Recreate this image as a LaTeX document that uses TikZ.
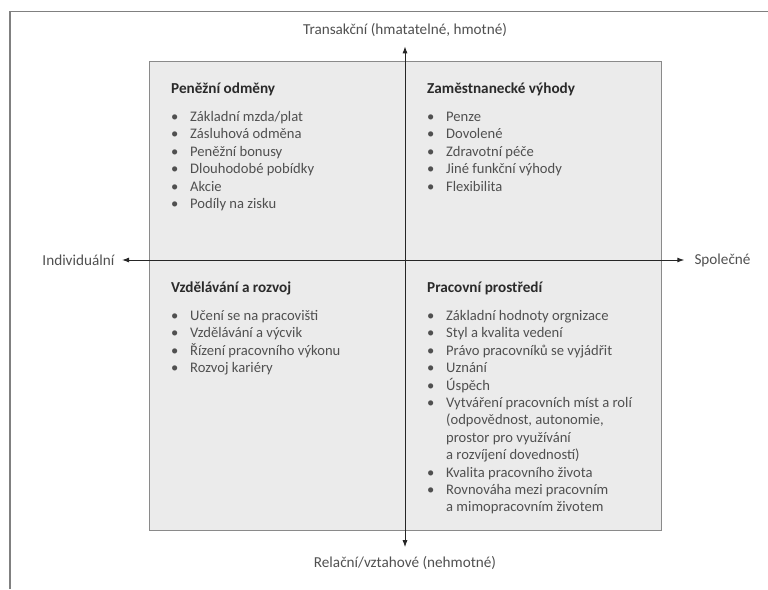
\documentclass[tikz,border=0pt]{standalone}
\usepackage{fontspec}
\setmainfont{Carlito}
\usetikzlibrary{arrows.meta,positioning}

\definecolor{boxfill}{HTML}{EBEBEB}
\definecolor{boxline}{HTML}{8A8A8A}
\definecolor{txtgray}{HTML}{505050}
\definecolor{headgray}{HTML}{2A2A2A}

% heading row and bullet row of a quadrant list
\newcommand{\qhead}[1]{\multicolumn{2}{@{}l@{}}{\fontsize{15.2}{17.4}\selectfont\bfseries\color{headgray}#1}\\[10.6pt]}
\newcommand{\qitem}{\textbullet &}

\begin{document}
\begin{tikzpicture}[x=1pt,y=-1pt,
    quad/.style={anchor=base west,inner sep=0pt,text=txtgray,
        font=\fontsize{14.6}{17.4}\selectfont},
    axlabel/.style={inner sep=0pt,text=txtgray,font=\fontsize{15.2}{17}\selectfont},
    axis/.style={line width=.9pt,black!85,
        {Latex[length=7pt,width=5pt]}-{Latex[length=7pt,width=5pt]}}]
        \useasboundingbox (0,0) rectangle (768,589);
        % frame
        \draw [line width=1.5pt,black!50] (10,589) -- (10,11.7) -- (768,11.7);
        \draw [boxline,fill=boxfill,line width=1pt] (149,61) rectangle (661,530);
        % axis labels
        \node[axlabel] (trans) at (405,30) {Transakční (hmatatelné, hmotné)};
        \node[axlabel] (rel) at (405,563) {Relační/vztahové (nehmotné)};
        \node[axlabel] (indiv) at (78.4,260) {Individuální};
        \node[axlabel] (spol) at (722.5,260) {Společné};
        \draw [axis,shorten <=9.5pt,shorten >=9pt] (trans) -- (rel);
        \draw [axis,shorten <=7.5pt,shorten >=10pt] (indiv) -- (spol);
        % quadrants
        \node[quad] (money) at (171,93.5) {\begin{tabular}[t]{@{}p{19pt}@{}l@{}}
            \qhead{Peněžní odměny}
            \qitem Základní mzda/plat\\
            \qitem Zásluhová odměna\\
            \qitem Peněžní bonusy\\
            \qitem Dlouhodobé pobídky\\
            \qitem Akcie\\
            \qitem Podíly na zisku
        \end{tabular}};
        \node[quad] (benefits) at (427,93.5) {\begin{tabular}[t]{@{}p{19pt}@{}l@{}}
            \qhead{Zaměstnanecké výhody}
            \qitem Penze\\
            \qitem Dovolené\\
            \qitem Zdravotní péče\\
            \qitem Jiné funkční výhody\\
            \qitem Flexibilita
        \end{tabular}};
        \node[quad] (learning) at (171,292.5) {\begin{tabular}[t]{@{}p{19pt}@{}l@{}}
            \qhead{Vzdělávání a rozvoj}
            \qitem Učení se na pracovišti\\
            \qitem Vzdělávání a výcvik\\
            \qitem Řízení pracovního výkonu\\
            \qitem Rozvoj kariéry
        \end{tabular}};
        \node[quad] (environment) at (427,292.5) {\begin{tabular}[t]{@{}p{19pt}@{}l@{}}
            \qhead{Pracovní prostředí}
            \qitem Základní hodnoty orgnizace\\
            \qitem Styl a kvalita vedení\\
            \qitem Právo pracovníků se vyjádřit\\
            \qitem Uznání\\
            \qitem Úspěch\\
            \qitem Vytváření pracovních míst a rolí\\
            & (odpovědnost, autonomie,\\
            & prostor pro využívání\\
            & a rozvíjení dovedností)\\
            \qitem Kvalita pracovního života\\
            \qitem Rovnováha mezi pracovním\\
            & a mimopracovním životem
        \end{tabular}};
    \end{tikzpicture}
\end{document}
